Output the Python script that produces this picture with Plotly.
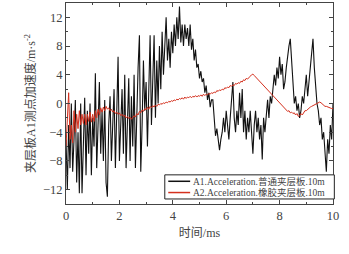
import numpy as np
import plotly.graph_objects as go

# Sampled every 0.05 ms from 0 to 10 ms
black_vals = [
    -5, -12, -3, -9, 0, -9.5, -5, 0.5, -11, -4,
    -12.5, 0, -12.5, -5, 0.8, -10, -1, -7, 0, -10,
    -2, -6, 4.2, -9, -2, 3, -7, -1, -8, 0.5,
    -11, -13, -3, 1, -8, -2, 2, -9, 0, 6.5,
    -8, -2, 2, -7, 4, -9, -2, 3.5, -8, 1,
    -6, 4, -9, 0, 5, 9.5, -9.5, -3, 6, -1,
    3, -6, 4, 9.5, -3, 2, 9.5, -2, 6, 0,
    8, 2, 10, 4, 9, 12, 6, 9, 5, 10,
    7, 11, 8, 12, 9, 13.5, 8.5, 11, 8, 11,
    9, 10.5, 8, 11, 7.5, 9, 6, 7.5, 5, 5.5,
    3.5, 4.5, 3, 3.5, 1.5, 2.5, 0.5, 1.5, -0.5, 0.5,
    0.5, -2, -4.5, -3.5, -5, -6.5, -5, -4, -2, -4,
    -1, -3, -5, -2, 1, 3, -2, -4, -1, -3,
    1.5, -2, 2, -4, -1, -5, -2, -4, -1, -5,
    -7, -3, -1, -4, -2, -5, -3, -7.8, -2, -4,
    -1, 0.5, -2, 1, 0, 2, 4, 2.5, 5, 3.5,
    6.5, 4, 5.5, 2, 3, 5, 7, 8, 9, 6,
    2, 0, 1, -1, 0, -2, -1, 1, 0, 2,
    4, 1, 3, 5, 7, 9, 5, 2, 0, -1,
    -3, -2, -5, -4, -7, -9.5, -5, -7, -3, -5,
    0,
]

red_vals = [
    -6, -2, 1.5, -5, -3, -5.5, -1, -4, -1.5, -3.5,
    -1, -3, -1.5, -2.8, -1.5, -3, -1.5, -2.5, -1.2, -2.6,
    -1.5, -2.5, -1, -2, -0.8, -1.6, -0.6, -1.2, -0.5, -1,
    -0.4, -0.8, -0.6, -1, -0.8, -1.2, -1, -1.4, -1.2, -1.5,
    -1.3, -1.7, -1.5, -1.8, -1.6, -2, -1.8, -2.1, -1.9, -2.2,
    -2, -1.7, -1.9, -1.4, -1.6, -1.1, -1.3, -0.9, -1.1, -0.7,
    -0.9, -0.5, -0.8, -0.4, -0.6, -0.3, -0.5, -0.2, -0.4, -0.1,
    -0.2, 0, -0.1, 0.1, 0, 0.2, 0.1, 0.3, 0.2, 0.4,
    0.3, 0.5, 0.4, 0.6, 0.5, 0.7, 0.6, 0.8, 0.6, 0.9,
    0.7, 0.9, 0.8, 1.0, 0.8, 1.0, 0.9, 1.1, 0.9, 1.1,
    1.0, 1.2, 1.0, 1.3, 1.1, 1.3, 1.2, 1.4, 1.3, 1.5,
    1.4, 1.6, 1.5, 1.8, 1.7, 1.9, 1.8, 2.0, 1.9, 2.2,
    2.1, 2.3, 2.2, 2.5, 2.4, 2.6, 2.5, 2.8, 2.7, 2.9,
    2.8, 3.1, 3.0, 3.3, 3.2, 3.5, 3.4, 3.7, 3.8, 4.0,
    4.1, 3.9, 3.7, 3.5, 3.3, 3.1, 2.9, 2.7, 2.5, 2.3,
    2.1, 1.8, 1.6, 1.4, 1.2, 1.0, 0.8, 0.6, 0.4, 0.2,
    0.0, -0.2, -0.4, -0.6, -0.8, -1.0, -1.1, -1.0, -1.3, -1.2,
    -1.4, -1.3, -1.6, -1.4, -1.8, -1.7, -1.4, -1.6, -1.2, -1.0,
    -1.0, -0.8, -0.7, -0.5, -0.4, -0.3, -0.1, 0.0, 0.1, 0.2,
    0.2, 0.1, -0.1, -0.2, -0.4, -0.4, -0.5, -0.6, -0.7, -0.7,
    -0.7,
]

black_t = np.linspace(0, 10, len(black_vals))
red_t = np.linspace(0, 10, len(red_vals))

x_ticks = [0, 2, 4, 6, 8, 10]
y_ticks = [-12, -8, -4, 0, 4, 8, 12]

name_black = "A1.Acceleration.普通夹层板.10m"
name_red = "A2.Acceleration.橡胶夹层板.10m"
color_black = "#111111"
color_red = "#d4301e"

FONT = "'Liberation Serif', 'Times New Roman', 'Noto Sans CJK SC', serif"
TXT = "#444444"

fig = go.Figure()
fig.add_trace(go.Scatter(x=black_t, y=black_vals, mode="lines", name=name_black,
                         line=dict(color=color_black, width=1.1), showlegend=False))
fig.add_trace(go.Scatter(x=red_t, y=red_vals, mode="lines", name=name_red,
                         line=dict(color=color_red, width=1), showlegend=False))

axis_common = dict(
    showgrid=False, zeroline=False, showline=True, linecolor="#444444", linewidth=1,
    mirror="ticks", ticks="inside", ticklen=4, tickcolor="#444444", automargin=False,
    tickfont=dict(family=FONT, size=12.5, color=TXT),
)

fig.update_xaxes(range=[0, 10], tickvals=x_ticks,
                 minor=dict(ticks="inside", ticklen=2, dtick=1, tickcolor="#444444"),
                 title=dict(text="时间/ms", font=dict(family=FONT, size=12, color=TXT), standoff=6),
                 **axis_common)
fig.update_yaxes(range=[-14, 14], tickvals=y_ticks,
                 minor=dict(ticks="inside", ticklen=2, dtick=2, tickcolor="#444444"),
                 title=dict(text="夹层板A1测点加速度/m·s<sup>-2</sup>",
                            font=dict(family=FONT, size=12, color=TXT), standoff=4),
                 **axis_common)

# Compact legend box (paper coordinates)
lx0, lx1, ly0, ly1 = 0.37, 1.005, 0.025, 0.145
fig.add_shape(type="rect", xref="paper", yref="paper", x0=lx0, x1=lx1, y0=ly0, y1=ly1,
              line=dict(color="#222222", width=1), fillcolor="white", layer="above")
rows = [(name_black, color_black, 0.113), (name_red, color_red, 0.057)]
for name, col, yy in rows:
    fig.add_shape(type="line", xref="paper", yref="paper", x0=0.383, x1=0.465, y0=yy, y1=yy,
                  line=dict(color=col, width=1.5), layer="above")
    fig.add_annotation(xref="paper", yref="paper", x=0.468, y=yy, text=name, showarrow=False,
                       xanchor="left", yanchor="middle",
                       font=dict(family=FONT, size=9.5, color=TXT))

fig.update_layout(
    width=349, height=254,
    margin=dict(l=66, r=16, t=3, b=50),
    paper_bgcolor="white", plot_bgcolor="white",
    font=dict(family=FONT, color=TXT),
    showlegend=False,
)

fig.write_html("out.html", config={"displayModeBar": False},
               post_script="document.body.style.margin='0';")
